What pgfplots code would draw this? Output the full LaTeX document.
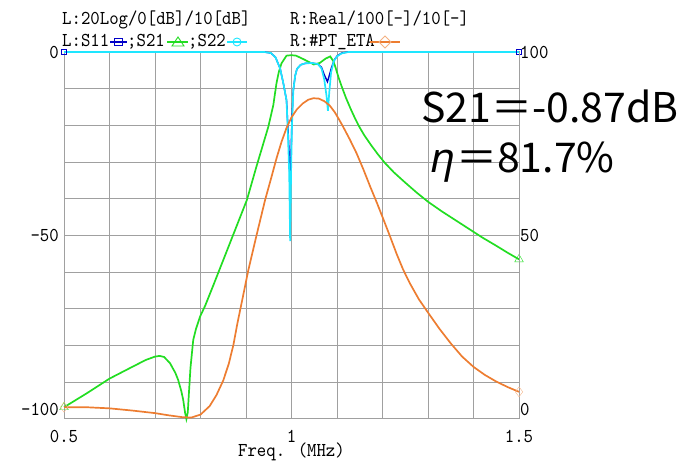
\documentclass[border=0pt]{standalone}
\usepackage{fontspec}
\usepackage{pgfplots}
\pgfplotsset{compat=1.18}
\newfontfamily\mono[FakeStretch=0.91]{lmmono10-regular.otf}
\newfontfamily\cjk{Noto Sans CJK JP}
\newfontfamily\etaf[FakeSlant=0.2]{Noto Sans}
\newcommand\monof{\mono\fontsize{19.7bp}{22bp}\selectfont}
\definecolor{sgreen}{RGB}{34,221,34}
\definecolor{scyan}{RGB}{30,230,255}
\definecolor{sblue}{RGB}{0,0,200}
\definecolor{sorange}{RGB}{237,125,49}
\definecolor{gridgray}{RGB}{160,160,160}
\begin{document}
\begin{tikzpicture}[x=1bp,y=1bp]
\path[use as bounding box] (0,0) rectangle (682,468);
\begin{axis}[
  at={(64bp,49bp)}, anchor=south west, scale only axis,
  width=455bp, height=367bp,
  xmin=0.5, xmax=1.5, ymin=-100, ymax=0, clip=false,
  xtick={0.5,0.6,0.7,0.8,0.9,1,1.1,1.2,1.3,1.4,1.5},
  xticklabels={0.5,,,,,1,,,,,1.5},
  ytick={-100,-90,-80,-70,-60,-50,-40,-30,-20,-10,0},
  yticklabels={\raisebox{3bp}[0pt][0pt]{-100},,,,,-50,,,,,0},
  grid=major, major grid style={gridgray, line width=1bp},
  axis line style={gridgray, line width=1bp},
  major tick length=0pt,
  tick label style={font=\monof, inner sep=0pt},
  xticklabel style={anchor=base, yshift=-24bp},
  yticklabel style={anchor=east, xshift=-5bp},
  xlabel={Freq. (MHz)},
  xlabel style={font=\monof, at={(axis description cs:0.5,0)}, anchor=base, yshift=-38bp, inner sep=0pt},
]
% S11
\addplot[sblue, line width=1.4bp] coordinates {
(0.5,0) (0.94,0) (0.955,-0.3) (0.965,-1.5) (0.975,-4.5) (0.982,-8.5) (0.989,-13.1)
(0.992,-20) (0.995,-28) (0.997,-37) (0.999,-28) (1.001,-18) (1.004,-10.4) (1.008,-6.5)
(1.012,-4.6) (1.02,-3.5) (1.03,-3.1) (1.045,-3.0) (1.058,-3.3) (1.066,-4.2) (1.072,-6.2)
(1.079,-8.1) (1.084,-6) (1.088,-4.2) (1.094,-2.2) (1.10,-1.1) (1.11,-0.3) (1.125,0) (1.5,0)};
% S21
\addplot[sgreen, line width=1.7bp] coordinates {
(0.50,-96.8) (0.55,-93.0) (0.60,-89.0) (0.65,-85.8) (0.68,-83.9) (0.70,-83.0) (0.71,-82.8)
(0.72,-83.1) (0.733,-84.8) (0.745,-87.5) (0.751,-89.4) (0.758,-92.5) (0.762,-94.8) (0.766,-98.2)
(0.769,-100) (0.772,-98.2) (0.775,-92) (0.778,-86) (0.784,-78.5) (0.79,-75.5) (0.799,-72.1)
(0.81,-69.2) (0.83,-63) (0.85,-56.7) (0.876,-48.5) (0.902,-40.3) (0.923,-31.2) (0.949,-20.4)
(0.96,-14.5) (0.967,-8.5) (0.972,-5.5) (0.978,-3.1) (0.989,-1.0) (1.00,-0.87) (1.01,-1.0)
(1.027,-2.0) (1.049,-3.4) (1.062,-3.0) (1.075,-1.8) (1.085,-1.2) (1.092,-2.5) (1.097,-4.3)
(1.103,-6.8) (1.110,-9.3) (1.120,-12.6) (1.130,-15.5) (1.140,-18.2) (1.150,-20.6) (1.160,-22.7)
(1.175,-25.4) (1.190,-27.9) (1.205,-30.2) (1.225,-32.8) (1.25,-35.6) (1.275,-38.3) (1.30,-40.8)
(1.33,-43.4) (1.36,-45.8) (1.39,-48.2) (1.42,-50.6) (1.45,-52.8) (1.475,-54.7) (1.50,-56.5)};
% S22
\addplot[scyan, line width=1.7bp] coordinates {
(0.5,0) (0.94,0) (0.955,-0.3) (0.965,-1.5) (0.975,-4.5) (0.982,-8.5) (0.989,-13.1)
(0.992,-22) (0.995,-33) (0.997,-51.5) (0.999,-33) (1.001,-20) (1.004,-10.4) (1.008,-6.5)
(1.012,-4.6) (1.02,-3.5) (1.03,-3.1) (1.045,-3.0) (1.058,-3.3) (1.066,-4.5) (1.072,-7.5)
(1.077,-12) (1.080,-16) (1.083,-11) (1.087,-5.5) (1.093,-2.5) (1.10,-1.2) (1.11,-0.4) (1.125,0) (1.5,0)};
% end markers
\addplot[only marks, mark=square, mark size=2.5bp, sblue] coordinates {(0.5,0) (1.5,0)};
\addplot[only marks, mark=triangle, mark size=5bp, sgreen] coordinates {(0.5,-96.8) (1.5,-56.5)};
\end{axis}
\begin{axis}[
  at={(64bp,49bp)}, anchor=south west, scale only axis,
  width=455bp, height=367bp,
  xmin=0.5, xmax=1.5, ymin=0, ymax=100, clip=false,
  axis x line=none, axis y line*=right,
  ytick={0,50,100},
  yticklabels={\raisebox{3bp}[0pt][0pt]{0},50,100},
  major tick length=0pt,
  axis line style={gridgray, line width=1bp},
  tick label style={font=\monof, inner sep=0pt},
  yticklabel style={anchor=west, xshift=1bp},
]
\addplot[sorange, line width=1.7bp] coordinates {
(0.50,3.2) (0.55,3.2) (0.60,2.9) (0.65,2.3) (0.70,1.6) (0.73,1.0) (0.76,0.5) (0.78,0.4)
(0.80,1.2) (0.82,3.5) (0.835,6.5) (0.85,10.5) (0.862,15.0) (0.872,20.0) (0.881,26.0)
(0.891,32.0) (0.905,40.5) (0.924,50.5) (0.942,59.7) (0.955,65.5) (0.967,71.0) (0.978,75.5)
(0.989,79.3) (1.00,82.2) (1.012,84.4) (1.025,86.0) (1.037,87.0) (1.048,87.4) (1.06,87.3)
(1.072,86.6) (1.084,85.4) (1.095,83.6) (1.105,81.5) (1.114,79.5) (1.128,76.2) (1.143,72.4)
(1.158,68.0) (1.173,63.3) (1.188,58.8) (1.202,54.4) (1.217,49.6) (1.231,45.0) (1.245,40.8)
(1.26,37.0) (1.28,32.6) (1.30,29.0) (1.325,24.6) (1.35,20.6) (1.375,17.0) (1.40,14.2)
(1.425,12.0) (1.45,10.2) (1.475,8.7) (1.50,7.4)};
\addplot[only marks, mark=diamond, mark size=5bp, sorange!55] coordinates {(0.5,3.2) (1.5,7.4)};
\end{axis}
% header texts
\node[anchor=base west, inner sep=0pt, font=\monof] at (62,443) {L:20Log/0[dB]/10[dB]};
\node[anchor=base west, inner sep=0pt, font=\monof] at (290,443) {R:Real/100[-]/10[-]};
\node[anchor=base west, inner sep=0pt, font=\monof] at (62,421) {L:S11};
\node[anchor=base west, inner sep=0pt, font=\monof] at (127,421) {;S21};
\node[anchor=base west, inner sep=0pt, font=\monof] at (188,421) {;S22};
\node[anchor=base west, inner sep=0pt, font=\monof] at (290,421) {R:\#PT\_ETA};
\draw[sblue, line width=1.4bp] (110,426) -- (127,426);
\draw[sblue, line width=0.9bp] (114,422.5) rectangle (122,429.5);
\draw[sgreen, line width=1.4bp] (167,426) -- (188,426);
\draw[sgreen, line width=0.9bp] (172,422) -- (184,422) -- (178,431) -- cycle;
\draw[scyan, line width=1.4bp] (227,426) -- (247,426);
\draw[scyan, line width=0.9bp] (237,426) circle (4);
\draw[sorange, line width=1.4bp] (370,426) -- (400,426);
\draw[sorange!60, line width=0.9bp] (379,426) -- (385,432) -- (391,426) -- (385,420) -- cycle;
% annotations
\node[anchor=base west, inner sep=0pt, font={\cjk\fontsize{41bp}{44bp}\selectfont}] at (421,345) {S21＝-0.87dB};
\node[anchor=base west, inner sep=0pt, font={\etaf\fontsize{41bp}{44bp}\selectfont}] at (428,295) {η};
\node[anchor=base west, inner sep=0pt, font={\cjk\fontsize{41bp}{44bp}\selectfont}] at (456,295) {＝81.7\%};
\end{tikzpicture}
\end{document}
